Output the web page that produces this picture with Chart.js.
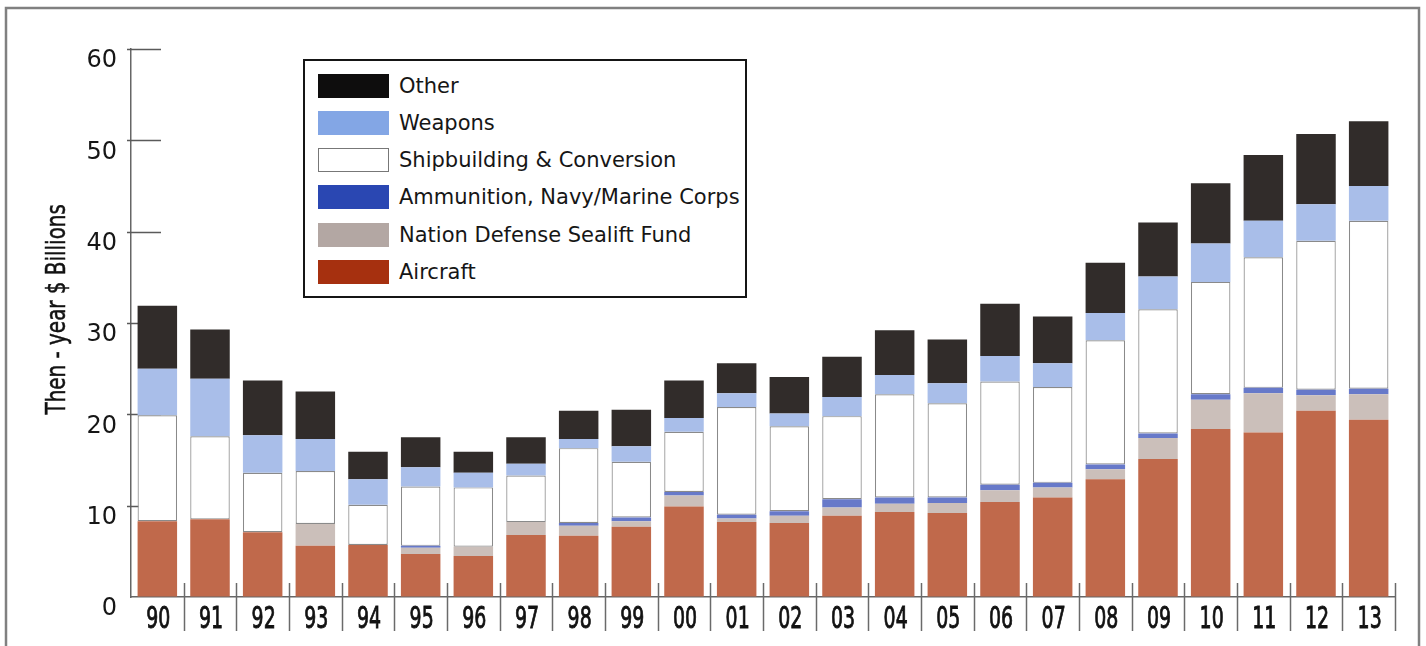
<!DOCTYPE html>
<html>
<head>
<meta charset="utf-8">
<script src="https://cdn.jsdelivr.net/npm/chart.js@4/dist/chart.umd.min.js"></script>
<style>
  html, body { margin: 0; padding: 0; background: #fff; }
  #wrap { position: relative; width: 1426px; height: 646px; overflow: hidden; }
  #legend {
    position: absolute; left: 303px; top: 59px; width: 440px; height: 235px;
    border: 2px solid #151515; background: #fff;
    font-family: "DejaVu Sans", sans-serif; font-size: 21px; color: #161616;
  }
  #legend .row { position: absolute; left: 13px; height: 25px; display: flex; align-items: center; }
  #legend .sw { width: 71px; height: 24px; margin-right: 10px; box-sizing: border-box; }
</style>
</head>
<body>
<div id="wrap">
  <canvas id="procChart" width="1426" height="646"></canvas>
  <div id="legend"></div>
</div>
<script>
const years = ['90','91','92','93','94','95','96','97','98','99','00','01','02','03','04','05','06','07','08','09','10','11','12','13'];

// then-year $ billions, stacked bottom to top
const aircraft     = [8.3, 8.5, 7.1, 5.6, 5.7, 4.7, 4.5, 6.8, 6.7, 7.7, 9.9, 8.2, 8.1, 8.9, 9.3, 9.2, 10.4, 10.9, 12.9, 15.1, 18.4, 18.0, 20.4, 19.4];
const sealift      = [0, 0, 0, 2.4, 0, 0.7, 1.0, 1.4, 1.1, 0.6, 1.2, 0.4, 0.8, 0.9, 0.9, 1.1, 1.3, 1.1, 1.1, 2.3, 3.2, 4.3, 1.7, 2.8];
const ammunition   = [0, 0, 0, 0, 0, 0.2, 0, 0, 0.3, 0.4, 0.4, 0.4, 0.5, 0.9, 0.7, 0.6, 0.6, 0.5, 0.5, 0.5, 0.6, 0.6, 0.6, 0.6];
const shipbuilding = [11.6, 9.1, 6.5, 5.8, 4.4, 6.5, 6.5, 5.1, 8.2, 6.1, 6.6, 11.8, 9.3, 9.1, 11.3, 10.3, 11.3, 10.5, 13.6, 13.6, 12.3, 14.3, 16.3, 18.4];
const weapons      = [5.1, 6.3, 4.1, 3.5, 2.8, 2.1, 1.6, 1.3, 1.0, 1.7, 1.5, 1.5, 1.4, 2.1, 2.1, 2.2, 2.8, 2.6, 3.0, 3.6, 4.2, 4.0, 4.0, 3.8];
const other        = [6.9, 5.4, 6.0, 5.2, 3.0, 3.3, 2.3, 2.9, 3.1, 4.0, 4.1, 3.3, 4.0, 4.4, 4.9, 4.8, 5.7, 5.1, 5.5, 5.9, 6.6, 7.2, 7.7, 7.1];

const yTicks = [0, 10, 20, 30, 40, 50, 60];
const yTitle = 'Then - year $ Billions';

// legend order is top of stack first
const legendItems = [
  { label: 'Other', color: '#0e0d0d' },
  { label: 'Weapons', color: '#83a6e5' },
  { label: 'Shipbuilding & Conversion', color: '#ffffff', border: '#777' },
  { label: 'Ammunition, Navy/Marine Corps', color: '#2a47b2' },
  { label: 'Nation Defense Sealift Fund', color: '#b3a7a3' },
  { label: 'Aircraft', color: '#a6300f' }
];

const legendBox = document.getElementById('legend');
legendItems.forEach((item, i) => {
  const row = document.createElement('div');
  row.className = 'row';
  row.style.top = (12 + i * 37.3) + 'px';
  const sw = document.createElement('div');
  sw.className = 'sw';
  sw.style.background = item.color;
  if (item.border) sw.style.border = '1.5px solid ' + item.border;
  const txt = document.createElement('span');
  txt.textContent = item.label;
  row.appendChild(sw);
  row.appendChild(txt);
  legendBox.appendChild(row);
});

const narrowFont = '"Liberation Sans Narrow", "DejaVu Sans Condensed", sans-serif';

// short y ticks inside the plot, year separators and squeezed year labels
// under the axis, rotated axis title, outer frame
const axisMarks = {
  id: 'axisMarks',
  beforeDatasetsDraw(chart) {
    const { ctx, chartArea, scales: { y } } = chart;
    ctx.save();
    ctx.strokeStyle = '#5a5a5a';
    ctx.lineWidth = 1.5;
    yTicks.forEach(v => {
      if (v === 0) return;
      const py = Math.round(y.getPixelForValue(v)) + 0.5;
      ctx.beginPath();
      ctx.moveTo(chartArea.left - 4, py);
      ctx.lineTo(chartArea.left + 30, py);
      ctx.stroke();
    });
    ctx.restore();
  },
  afterDraw(chart) {
    const { ctx, chartArea, scales: { x, y } } = chart;
    const step = chartArea.width / years.length;
    ctx.save();
    ctx.strokeStyle = '#6a6a6a';
    ctx.lineWidth = 1.5;
    years.forEach((yr, i) => {
      const px = Math.round(x.getPixelForValue(i) + step / 2) + 0.5;
      ctx.beginPath();
      ctx.moveTo(px, chartArea.bottom - 14);
      ctx.lineTo(px, chartArea.bottom + 34);
      ctx.stroke();
    });

    ctx.fillStyle = '#121212';
    ctx.strokeStyle = '#121212';
    ctx.lineWidth = 0.9;
    ctx.font = '31px ' + narrowFont;
    ctx.textAlign = 'center';
    ctx.textBaseline = 'alphabetic';
    years.forEach((yr, i) => {
      ctx.save();
      ctx.translate(x.getPixelForValue(i) + 1, chartArea.bottom + 31);
      ctx.scale(0.68, 1);
      ctx.fillText(yr, 0, 0);
      ctx.strokeText(yr, 0, 0);
      ctx.restore();
    });

    ctx.save();
    ctx.font = '27px ' + narrowFont;
    ctx.lineWidth = 0.5;
    ctx.translate(65, y.getPixelForValue(31.5));
    ctx.rotate(-Math.PI / 2);
    ctx.scale(0.82, 1);
    ctx.fillText(yTitle, 0, 0);
    ctx.strokeText(yTitle, 0, 0);
    ctx.restore();

    ctx.strokeStyle = '#808080';
    ctx.lineWidth = 2.5;
    ctx.strokeRect(6, 8, 1413, 700);
    ctx.restore();
  }
};

const seg = (label, data, color, extra) => Object.assign({
  label, data, backgroundColor: color, borderWidth: 0,
  barPercentage: 0.75, categoryPercentage: 1.0
}, extra || {});

new Chart(document.getElementById('procChart'), {
  type: 'bar',
  data: {
    labels: years,
    datasets: [
      seg('Aircraft', aircraft, '#c0694b'),
      seg('Nation Defense Sealift Fund', sealift, '#cbbfba'),
      seg('Ammunition, Navy/Marine Corps', ammunition, '#6779c9'),
      seg('Shipbuilding & Conversion', shipbuilding, '#ffffff', { borderWidth: 1.2, borderColor: '#8a8a8a', borderSkipped: false }),
      seg('Weapons', weapons, '#a9bee9'),
      seg('Other', other, '#312c2a')
    ]
  },
  plugins: [axisMarks],
  options: {
    responsive: false,
    animation: false,
    layout: { padding: { top: 49, right: 31, left: 0, bottom: 0 } },
    plugins: { legend: { display: false }, tooltip: { enabled: false } },
    scales: {
      x: {
        stacked: true,
        grid: { display: true, drawOnChartArea: false, drawTicks: false, color: 'rgba(0,0,0,0)' },
        border: { display: true, color: '#666', width: 1.5 },
        ticks: { display: false },
        afterFit(scale) { scale.height = 49; }
      },
      y: {
        stacked: true,
        min: 0, max: 60,
        afterBuildTicks(scale) { scale.ticks = yTicks.map(v => ({ value: v })); },
        grid: { display: true, drawOnChartArea: false, drawTicks: false, color: 'rgba(0,0,0,0)' },
        border: { display: true, color: '#666', width: 1.5 },
        ticks: {
          padding: 14, labelOffset: 12, color: '#161616',
          font: { family: '"DejaVu Sans", sans-serif', size: 24 }
        },
        afterFit(scale) { scale.width = 131; }
      }
    }
  }
});
</script>
</body>
</html>
